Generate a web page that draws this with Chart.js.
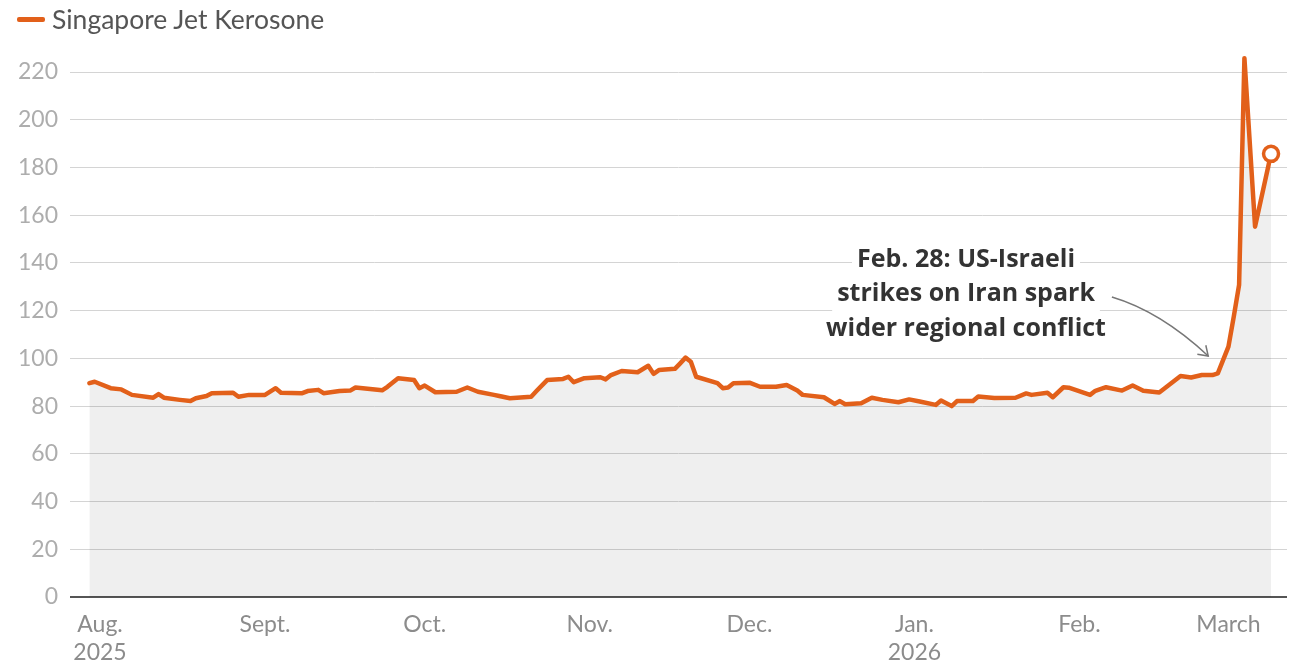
<!DOCTYPE html>
<html><head><meta charset="utf-8">
<script src="https://cdn.jsdelivr.net/npm/chart.js@4"></script>
<style>
html,body{margin:0;padding:0;background:#fff;width:1291px;height:665px;overflow:hidden;font-family:Lato,sans-serif}
#wrap{position:absolute;left:0;top:0;width:1291px;height:665px}
#legend{position:absolute;left:17px;top:3px;font-size:26.5px;color:#555;display:flex;align-items:center;white-space:nowrap}
#legend .sw{display:inline-block;width:28px;height:5px;background:#e2601a;margin-right:7px;border-radius:2px}
</style></head><body>
<div id="wrap"><canvas id="c" width="1291" height="665"></canvas></div>
<div id="legend"><span class="sw"></span><span id="legtext"></span></div>
<script>
// ---- data ----
const seriesName = "Singapore Jet Kerosone";
// days since 1 Aug 2025
const dayOffsets = [-2,-1,2,4,6,10,11,12,15,17,
  18,20,21,25,26,28,31,33,34,38,
  39,41,42,45,47,48,53,54,56,59,
  60,61,63,67,69,71,74,75,77,81,
  82,84,87,88,89,91,94,95,96,98,
  101,103,104,105,108,109,110,111,112,116,
  117,118,119,122,124,127,129,131,132,136,
  138,139,140,143,145,147,150,152,154,157,
  158,160,161,164,165,168,172,174,175,178,
  179,181,182,186,187,189,192,194,196,199,
  203,205,207,209,210,212,213,214,215,217,
  220];
const prices = [89.6,90.2,87.5,87.0,84.7,83.5,85.0,83.5,82.6,82.1,
  83.3,84.2,85.4,85.6,83.9,84.7,84.7,87.5,85.6,85.4,
  86.3,86.8,85.4,86.3,86.5,87.8,86.6,88.1,91.7,90.9,
  87.5,88.6,85.8,86.0,87.8,86.0,84.7,84.2,83.3,83.9,
  86.3,90.9,91.4,92.3,90.0,91.7,92.1,91.2,93.0,94.7,
  94.2,96.9,93.5,95.1,95.6,97.9,100.3,98.6,92.3,89.6,
  87.5,87.8,89.6,89.8,88.1,88.1,88.8,86.5,84.7,83.7,
  80.9,82.1,80.8,81.2,83.5,82.6,81.6,82.8,81.9,80.5,
  82.3,80.0,82.1,82.1,84.0,83.4,83.5,85.3,84.7,85.6,
  83.7,87.9,87.7,84.7,86.4,87.9,86.5,88.6,86.4,85.7,
  92.6,92.0,93.0,93.0,93.7,104.9,117.5,130.8,225.8,155.2,
  185.7];
const monthTickDays = [0,31,61,92,122,153,184,212];
const monthTickLabels = [["Aug.","2025"],"Sept.","Oct.","Nov.","Dec.",["Jan.","2026"],"Feb.","March"];
const yTickValues = [0,20,40,60,80,100,120,140,160,180,200,220];
const annotationLines = ["Feb. 28: US-Israeli","strikes on Iran spark","wider regional conflict"];
const annotationAnchor = {day:162.7, value:127};       // centre of middle line
const arrowStart = {day:190.1, value:125.7};
const arrowCtrl = {day:199.2, value:119.7};
const arrowEnd = {day:208.2, value:101};

document.getElementById('legtext').textContent = seriesName;

const ORANGE = '#e2601a';
const FONT = 'Lato, sans-serif';

const notePlugin = {
  id:'note',
  afterDatasetsDraw(chart){
    const {ctx, scales:{x,y}} = chart;
    ctx.save();
    const cx = x.getPixelForValue(annotationAnchor.day);
    const cy = y.getPixelForValue(annotationAnchor.value);
    const lh = 34.5;
    ctx.font = 'bold 25px "Open Sans", sans-serif';
    ctx.textAlign = 'center';
    ctx.textBaseline = 'middle';
    annotationLines.forEach((t,i)=>{
      const w = ctx.measureText(t).width;
      const ly = cy + (i-1)*lh;
      ctx.fillStyle = '#fff';
      ctx.fillRect(cx - w/2 - 5, ly - lh/2, w + 10, lh);
    });
    ctx.fillStyle = '#333';
    annotationLines.forEach((t,i)=>{
      ctx.fillText(t, cx, cy + (i-1)*lh);
    });
    // arrow
    const sx = x.getPixelForValue(arrowStart.day), sy = y.getPixelForValue(arrowStart.value);
    const qx = x.getPixelForValue(arrowCtrl.day), qy = y.getPixelForValue(arrowCtrl.value);
    const ex = x.getPixelForValue(arrowEnd.day), ey = y.getPixelForValue(arrowEnd.value);
    ctx.strokeStyle = '#777';
    ctx.lineWidth = 1.5;
    ctx.beginPath();
    ctx.moveTo(sx, sy);
    ctx.quadraticCurveTo(qx, qy, ex, ey);
    ctx.stroke();
    const ang = Math.atan2(ey - qy, ex - qx);
    const L = 11;
    ctx.beginPath();
    ctx.moveTo(ex - L*Math.cos(ang - 0.6), ey - L*Math.sin(ang - 0.6));
    ctx.lineTo(ex, ey);
    ctx.lineTo(ex - L*Math.cos(ang + 0.6), ey - L*Math.sin(ang + 0.6));
    ctx.stroke();
    ctx.restore();
  }
};

const lastIdx = prices.length - 1;
new Chart(document.getElementById('c'), {
  type:'line',
  data:{
    datasets:[{
      label: seriesName,
      data: dayOffsets.map((d,i)=>({x:d, y:prices[i]})),
      borderColor: ORANGE,
      borderWidth: 4.5,
      borderJoinStyle: 'round',
      borderCapStyle: 'round',
      tension: 0,
      fill: 'origin',
      backgroundColor: 'rgba(0,0,0,0.063)',
      clip: false,
      pointRadius: ctx => ctx.dataIndex === lastIdx ? 7.5 : 0,
      pointHoverRadius: ctx => ctx.dataIndex === lastIdx ? 7.5 : 0,
      pointBackgroundColor: '#fff',
      pointBorderColor: ORANGE,
      pointBorderWidth: 3.5
    }]
  },
  options:{
    responsive:false,
    devicePixelRatio:1,
    animation:false,
    events:[],
    layout:{autoPadding:false, padding:{top:72, right:4, left:0, bottom:0}},
    plugins:{legend:{display:false}, tooltip:{enabled:false}},
    scales:{
      x:{
        type:'linear',
        min:-5.64, max:223,
        afterBuildTicks: s => { s.ticks = monthTickDays.map(v=>({value:v})); },
        afterFit: s => { s.height = 68; s.paddingLeft = 0; s.paddingRight = 0; },
        ticks:{
          autoSkip:false, maxRotation:0, minRotation:0,
          callback:(v,i)=>monthTickLabels[i],
          color:'#8c8c8c',
          font:{family:FONT, size:23, lineHeight:1.24},
          padding:5
        },
        grid:{display:false},
        border:{display:false}
      },
      y:{
        min:0, max:220,
        afterBuildTicks: s => { s.ticks = yTickValues.map(v=>({value:v})); },
        afterFit: s => { s.width = 70; },
        ticks:{
          color:'#adadad',
          font:{family:FONT, size:23},
          padding:12
        },
        grid:{
          drawTicks:false,
          color: c => c.tick && c.tick.value === 0 ? '#555' : '#d4d4d4',
          lineWidth: c => c.tick && c.tick.value === 0 ? 2 : 1
        },
        border:{display:false}
      }
    }
  },
  plugins:[notePlugin]
});
</script>
</body></html>
